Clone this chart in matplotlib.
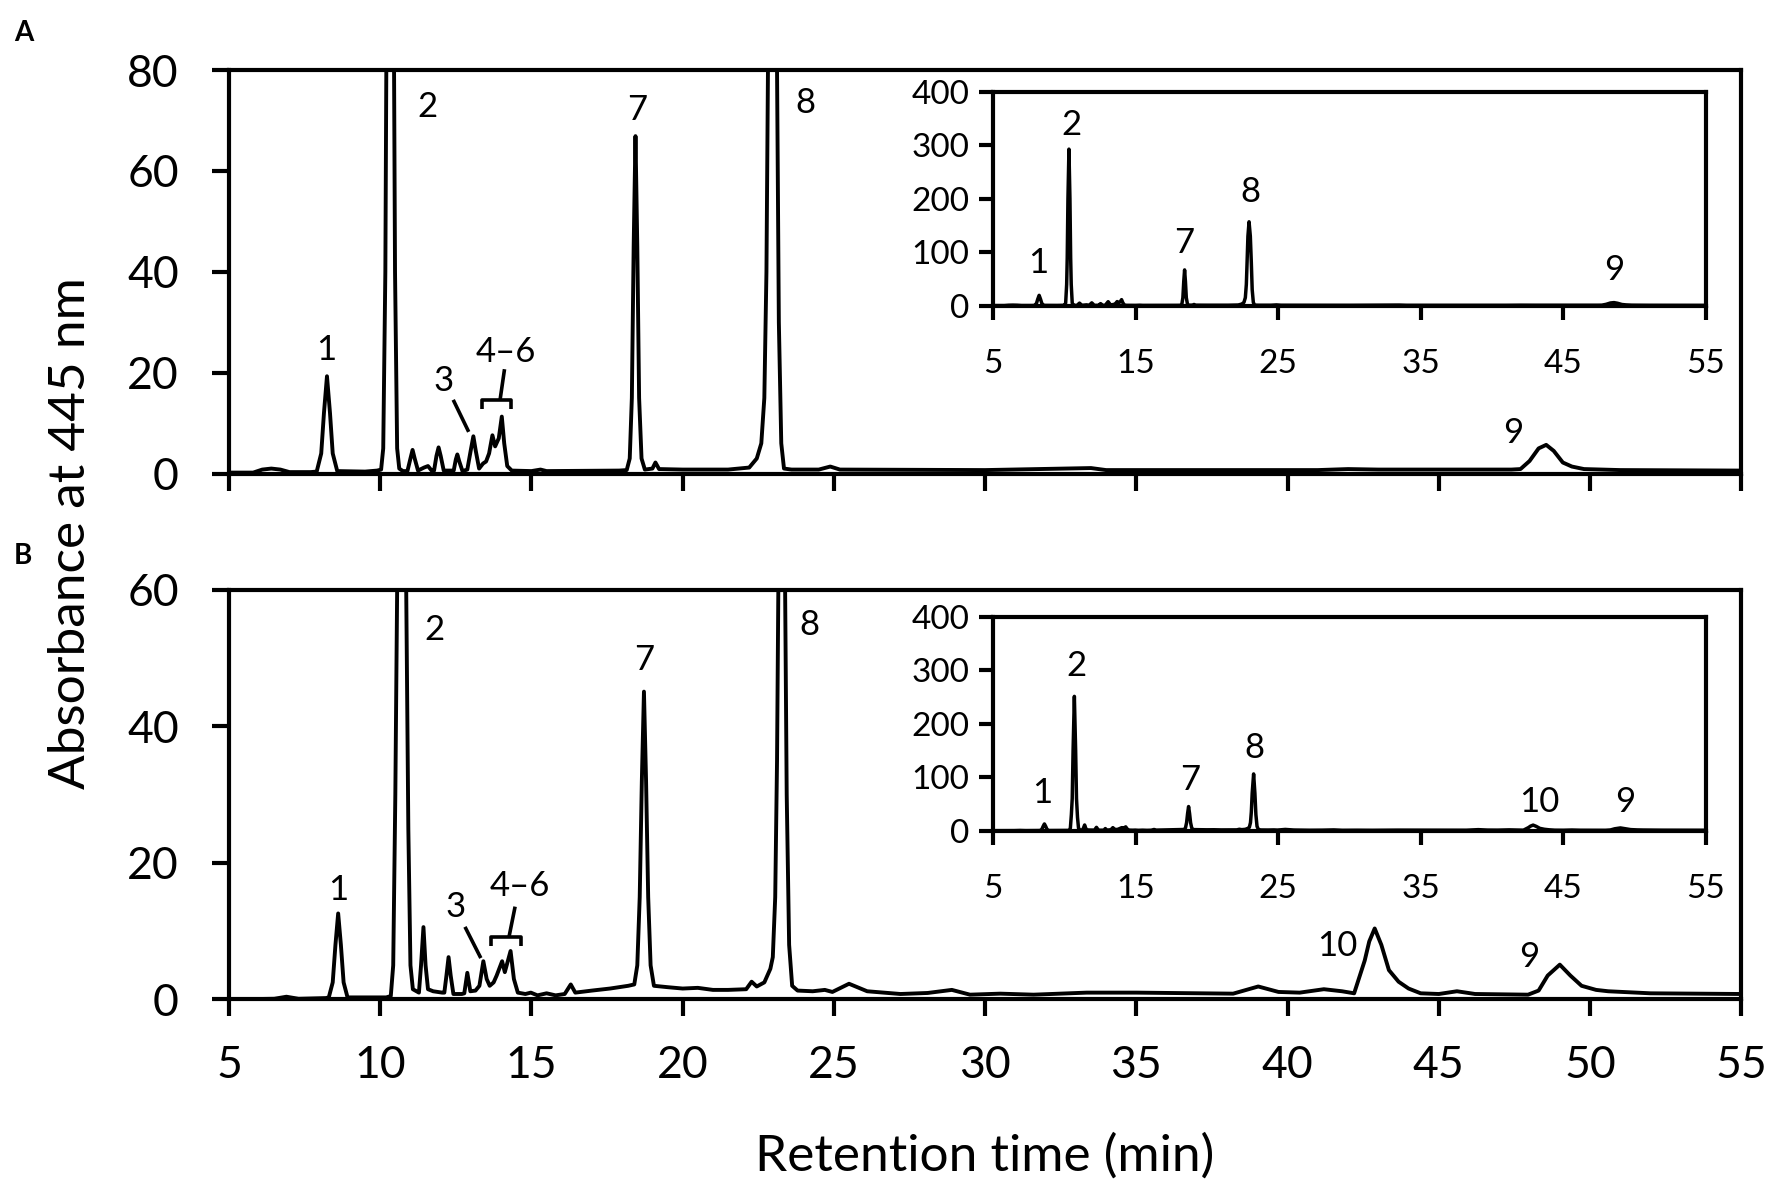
import matplotlib
matplotlib.use('Agg')
import matplotlib.pyplot as plt

# chromatogram A: retention time (min) / absorbance at 445 nm
time_a = [5.0, 5.8, 6.1, 6.4, 6.7, 7.0, 7.7,
          7.90, 8.05, 8.14, 8.24, 8.34, 8.43, 8.58, 9.5, 9.9,
          10.03, 10.10, 10.17, 10.21, 10.26, 10.33, 10.40, 10.45, 10.49, 10.56, 10.63, 10.75,
          10.90, 11.00, 11.07, 11.14, 11.25, 11.45, 11.58, 11.70,
          11.78, 11.86, 11.93, 12.00, 12.10, 12.30,
          12.43, 12.50, 12.55, 12.61, 12.72,
          12.88, 12.99, 13.08, 13.16, 13.27, 13.40, 13.50,
          13.60, 13.71, 13.80, 13.92, 14.02, 14.10, 14.20, 14.35,
          15.0, 15.3, 15.5, 17.9,
          18.15, 18.25, 18.32, 18.38, 18.44, 18.50, 18.56, 18.64, 18.75,
          19.0, 19.1, 19.22, 20.0, 21.5, 22.2,
          22.45, 22.6, 22.7, 22.77, 22.82, 22.88, 22.96, 23.05, 23.12, 23.18, 23.26, 23.35, 23.6,
          24.5, 24.88, 25.2, 30.0, 33.5, 34.0, 41.0, 42.0, 43.0, 47.4,
          47.7, 48.0, 48.3, 48.55, 48.8, 49.1, 49.4, 49.8, 51.0, 55.0]
abs_a = [0.2, 0.2, 0.8, 1.0, 0.8, 0.3, 0.3,
         0.4, 4.0, 12.0, 19.3, 12.0, 4.0, 0.5, 0.4, 0.6,
         0.8, 5.0, 40.0, 90.0, 200.0, 293.0, 200.0, 90.0, 40.0, 5.0, 1.0, 0.5,
         0.5, 3.0, 4.7, 3.0, 0.6, 1.2, 1.5, 0.6,
         0.6, 3.5, 5.2, 3.5, 0.6, 0.6,
         0.6, 2.8, 3.8, 2.5, 0.5,
         0.8, 4.5, 7.4, 4.5, 1.0, 2.0, 2.4,
         4.0, 7.6, 5.4, 7.0, 11.3, 6.0, 1.5, 0.6,
         0.5, 0.8, 0.5, 0.6,
         0.7, 3.0, 15.0, 45.0, 66.9, 45.0, 15.0, 3.0, 0.8,
         1.0, 2.2, 0.9, 0.8, 0.8, 1.2,
         3.0, 6.0, 15.0, 40.0, 80.0, 130.0, 157.0, 130.0, 80.0, 30.0, 6.0, 1.0, 0.8,
         0.8, 1.4, 0.8, 0.7, 1.1, 0.7, 0.7, 0.9, 0.8, 0.8,
         0.9, 2.5, 5.0, 5.7, 4.5, 2.2, 1.4, 0.9, 0.7, 0.6]

# chromatogram B
time_b = [5.0, 6.5, 6.9, 7.3, 8.2,
          8.30, 8.43, 8.52, 8.61, 8.70, 8.79, 8.92, 10.2,
          10.35, 10.43, 10.50, 10.56, 10.62, 10.71, 10.80, 10.86, 10.93, 11.00, 11.08, 11.20,
          11.28, 11.35, 11.43, 11.50, 11.58, 11.75, 12.05,
          12.12, 12.19, 12.26, 12.33, 12.42, 12.70,
          12.78, 12.88, 12.98, 13.15,
          13.28, 13.41, 13.52, 13.62, 13.75, 13.85,
          14.03, 14.12, 14.31, 14.42, 14.55, 14.80, 14.98, 15.2, 15.5, 15.8,
          16.1, 16.3, 16.45, 17.0, 17.6, 18.2,
          18.40, 18.50, 18.58, 18.65, 18.72, 18.79, 18.86, 18.94, 19.05,
          19.5, 20.0, 20.5, 21.0, 21.5, 22.1, 22.28, 22.45,
          22.7, 22.9, 22.98, 23.06, 23.12, 23.18, 23.28, 23.37, 23.44, 23.52, 23.62, 23.8,
          24.3, 24.7, 24.95, 25.5, 26.1, 27.2, 28.1, 28.9, 29.5, 30.5, 31.6, 33.36,
          35.0, 38.2, 39.03, 39.7, 40.4, 41.2, 41.8, 42.2,
          42.55, 42.7, 42.88, 43.1, 43.35, 43.67, 44.0, 44.4, 45.0, 45.6, 46.2, 47.95,
          48.3, 48.6, 49.0, 49.35, 49.72, 50.2, 50.6, 52.0, 55.0]
abs_b = [0.0, 0.1, 0.4, 0.1, 0.2,
         0.3, 2.5, 8.0, 12.6, 8.0, 2.5, 0.3, 0.3,
         0.5, 5.0, 30.0, 60.0, 150.0, 251.0, 150.0, 60.0, 25.0, 5.0, 1.5, 1.2,
         1.0, 5.0, 10.6, 5.0, 1.5, 1.2, 1.0,
         1.0, 3.5, 6.2, 3.5, 0.8, 0.8,
         0.9, 3.9, 1.2, 1.3,
         2.0, 5.6, 3.0, 2.0, 2.5, 3.5,
         5.6, 4.0, 7.1, 3.0, 1.0, 0.8, 1.0, 0.6, 0.9, 0.6,
         0.8, 2.2, 1.0, 1.3, 1.6, 2.0,
         2.2, 5.0, 15.0, 32.0, 45.1, 32.0, 15.0, 5.0, 2.0,
         1.8, 1.6, 1.7, 1.4, 1.4, 1.5, 2.6, 1.9,
         2.5, 4.5, 6.2, 15.0, 35.0, 70.0, 106.0, 70.0, 30.0, 8.0, 2.0, 1.3,
         1.2, 1.4, 1.1, 2.3, 1.2, 0.8, 0.95, 1.4, 0.7, 0.85, 0.7, 1.0,
         1.0, 0.85, 1.9, 1.1, 1.0, 1.5, 1.2, 0.9,
         5.7, 8.5, 10.4, 8.0, 4.3, 2.6, 1.6, 0.9, 0.8, 1.2, 0.8, 0.7,
         1.3, 3.5, 5.1, 3.5, 2.0, 1.4, 1.2, 0.9, 0.8]

x_ticks = [5, 10, 15, 20, 25, 30, 35, 40, 45, 50, 55]
inset_x_ticks = [5, 15, 25, 35, 45, 55]
inset_y_ticks = [0, 100, 200, 300, 400]

LW = 2.8
SPINE = 3.0
FONT = ['Lato', 'DejaVu Sans']


def style_axes(ax, size, tick_len, x_pad, y_pad):
    for s in ax.spines.values():
        s.set_linewidth(SPINE)
    ax.tick_params(direction='out', length=tick_len, width=SPINE, labelsize=size)
    ax.tick_params(axis='x', pad=x_pad)
    ax.tick_params(axis='y', pad=y_pad)


def draw_main(ax, t, v, ymax, y_ticks, labels, show_xlabels):
    ax.plot(t, v, color='black', lw=LW, solid_joinstyle='round')
    ax.set_xlim(5, 55)
    ax.set_ylim(0, ymax)
    ax.set_xticks(x_ticks)
    ax.set_yticks(y_ticks)
    if not show_xlabels:
        ax.set_xticklabels([])
    style_axes(ax, 32, 12, 21, 24)
    for txt, x, y in labels:
        ax.text(x, y, txt, fontsize=25, ha='center', va='center')


def draw_inset(fig, rect, t, v, labels):
    ax = fig.add_axes(rect)
    ax.plot(t, v, color='black', lw=2.5, solid_joinstyle='round')
    ax.set_xlim(5, 55)
    ax.set_ylim(0, 400)
    ax.set_xticks(inset_x_ticks)
    ax.set_yticks(inset_y_ticks)
    style_axes(ax, 24, 10, 21, 7)
    for txt, x, y in labels:
        ax.text(x, y, txt, fontsize=25, ha='center', va='center')
    return ax


def bracket(ax, x0, x1, y, drop, stem):
    kw = dict(color='black', lw=2.6, solid_capstyle='butt')
    ax.plot([x0, x0, x1, x1], [y - drop, y, y, y - drop], **kw)
    ax.plot(stem[0], stem[1], **kw)


plt.rcParams['font.family'] = FONT
fig = plt.figure(figsize=(17.75, 11.87), dpi=100)

# panel A
ax_a = fig.add_axes([0.129, 0.601, 0.852, 0.340])
draw_main(ax_a, time_a, abs_a, 80, [0, 20, 40, 60, 80],
          [('1', 8.2, 24.5), ('2', 11.57, 72.7), ('3', 12.1, 18.3), ('4\u20136', 14.15, 24.2),
           ('7', 18.5, 72.0), ('8', 24.05, 73.5), ('9', 47.45, 8.1)], False)
ax_a.plot([12.44, 12.9], [14.3, 8.6], color='black', lw=2.6)
bracket(ax_a, 13.38, 14.34, 14.5, 1.7, ([13.96, 14.11], [14.5, 20.7]))

# panel B
ax_b = fig.add_axes([0.129, 0.158, 0.852, 0.345])
draw_main(ax_b, time_b, abs_b, 60, [0, 20, 40, 60],
          [('1', 8.6, 16.0), ('2', 11.8, 54.2), ('3', 12.5, 13.5), ('4\u20136', 14.62, 16.6),
           ('7', 18.72, 49.7), ('8', 24.18, 54.8), ('10', 41.65, 7.9), ('9', 48.0, 6.2)], True)
ax_b.plot([12.83, 13.30], [10.4, 6.3], color='black', lw=2.6)
bracket(ax_b, 13.67, 14.64, 9.1, 1.2, ([14.26, 14.46], [9.2, 13.6]))

# insets with full scale
draw_inset(fig, [0.5594, 0.7425, 0.4017, 0.180], time_a, abs_a,
           [('1', 8.2, 79), ('2', 10.5, 338), ('7', 18.44, 117), ('8', 23.05, 213), ('9', 48.6, 67)])
draw_inset(fig, [0.5594, 0.3002, 0.4017, 0.1803], time_b, abs_b,
           [('1', 8.44, 70), ('2', 10.85, 307), ('7', 18.86, 95), ('8', 23.35, 154),
            ('10', 43.3, 54), ('9', 49.35, 54)])

fig.text(0.555, 0.026, 'Retention time (min)', fontsize=37, ha='center', va='center')
fig.text(0.040, 0.551, 'Absorbance at 445 nm', fontsize=37, ha='center', va='center',
         rotation=90)
fig.text(0.008, 0.972, 'A', fontsize=20, fontweight='bold', ha='left', va='center')
fig.text(0.008, 0.532, 'B', fontsize=20, fontweight='bold', ha='left', va='center')

fig.savefig('out.png', dpi=100)
